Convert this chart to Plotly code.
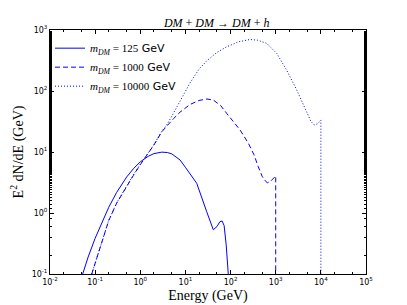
import plotly.graph_objects as go

# m_DM = 125 GeV
E_125 = [0.053, 0.07, 0.1, 0.15, 0.2, 0.3, 0.5, 0.7, 1.0, 1.5, 2.0, 3.0, 4.0, 5.0, 7.6, 10,
         17.8, 29.6, 35, 41.5, 50, 58, 65, 72, 80, 88, 95]
V_125 = [0.1, 0.19, 0.385, 0.79, 1.24, 2.18, 3.9, 5.3, 6.9, 8.5, 9.4, 9.95, 9.8, 9.3, 7.4, 5.6,
         3.07, 1.05, 0.75, 0.53, 0.6, 0.72, 0.74, 0.62, 0.3, 0.13, 0.05]

# m_DM = 1000 GeV
E_1000 = [0.084, 0.1, 0.117, 0.15, 0.2, 0.3, 0.5, 0.7, 1.0, 1.5, 2.0, 3.0, 4.0, 5.4, 7.6, 12.6,
          20, 30, 41.5, 60, 82, 120, 162, 248, 330, 412, 500, 600, 652, 750, 850, 950, 1000, 1000]
V_1000 = [0.1, 0.15, 0.22, 0.4, 0.75, 1.45, 2.8, 4.1, 6.2, 9.7, 13, 21.5, 27.5, 35, 45, 60,
          70, 74, 71, 58, 43, 31, 23, 13.9, 9, 5.7, 4.0, 3.3, 3.14, 3.25, 3.6, 3.95, 4.05, 0.05]

# m_DM = 10000 GeV
E_10000 = [0.084, 0.1, 0.117, 0.15, 0.2, 0.3, 0.5, 0.7, 1.0, 1.5, 2.0, 3.0, 4.0, 5.4, 8, 12.6,
           20, 30, 50, 82, 150, 270, 400, 630, 1050, 1740, 2920, 4860, 6000, 7080, 8500, 9500,
           10000, 10000]
V_10000 = [0.1, 0.15, 0.22, 0.4, 0.76, 1.47, 2.85, 4.2, 6.3, 9.8, 13.2, 21.8, 29, 43, 75, 135,
           228, 315, 430, 530, 640, 700, 680, 605, 415, 221, 104, 43, 32, 27.7, 29, 32,
           33.5, 0.05]

labels = ["125", "1000", "10000"]
x_ticks = [0.01, 0.1, 1, 10, 100, 1000, 10000, 100000]
x_tick_text = ["10<sup>-2</sup>", "10<sup>-1</sup>", "10<sup>0</sup>", "10<sup>1</sup>",
               "10<sup>2</sup>", "10<sup>3</sup>", "10<sup>4</sup>", "10<sup>5</sup>"]
y_ticks = [0.1, 1, 10, 100, 1000]
y_tick_text = ["10<sup>-1</sup>", "10<sup>0</sup>", "10<sup>1</sup>", "10<sup>2</sup>", "10<sup>3</sup>"]

SERIF = "Liberation Serif, DejaVu Serif, serif"


def legend_label(m):
    return (f"<span style='font-family:{SERIF}'><i>m</i><sub><i>DM</i></sub> = {m}</span> GeV")


fig = go.Figure()
series = [(E_125, V_125, "solid"), (E_1000, V_1000, "5px,3px"), (E_10000, V_10000, "1px,2px")]
for (ex, vy, dash), m in zip(series, labels):
    fig.add_trace(go.Scatter(x=ex, y=vy, mode="lines", name=legend_label(m),
                             line=dict(color="#0000ff", width=1, dash=dash)))

axis_common = dict(
    type="log", showgrid=False, zeroline=False, showline=True, linecolor="black", linewidth=1,
    mirror="allticks", ticks="inside", ticklen=4, tickcolor="black", tickwidth=1,
    automargin=False,
    tickfont=dict(family="DejaVu Sans, sans-serif", size=8, color="black"),
    minor=dict(ticks="inside", ticklen=2, tickcolor="black", tickwidth=0.6, showgrid=False),
)

fig.update_xaxes(**axis_common, range=[-2, 5], tickvals=x_ticks, ticktext=x_tick_text,
                 title=dict(text="Energy (GeV)", font=dict(family=SERIF, size=14, color="black"),
                            standoff=4))
fig.update_yaxes(**axis_common, range=[-1, 3], tickvals=y_ticks, ticktext=y_tick_text,
                 title=dict(text="E<sup>2</sup> dN/dE (GeV)",
                            font=dict(family=SERIF, size=14, color="black"), standoff=8))

# page body adds an 8px offset, so the figure is sized to fit the 407x305 window
fig.update_layout(
    width=399, height=297,
    margin=dict(l=42, r=41, t=22, b=31),
    paper_bgcolor="white", plot_bgcolor="white",
    title=dict(text="<i>DM</i> + <i>DM</i> → <i>DM</i> + <i>h</i>",
               font=dict(family=SERIF, size=12, color="black"),
               x=0.523, xanchor="center", y=0.935, yanchor="bottom"),
    legend=dict(x=0.0, y=0.985, xanchor="left", yanchor="top", bgcolor="rgba(0,0,0,0)",
                font=dict(family="DejaVu Sans, sans-serif", size=11, color="black"),
                tracegroupgap=0, itemwidth=30),
    showlegend=True,
)

fig.write_html("out.html")
